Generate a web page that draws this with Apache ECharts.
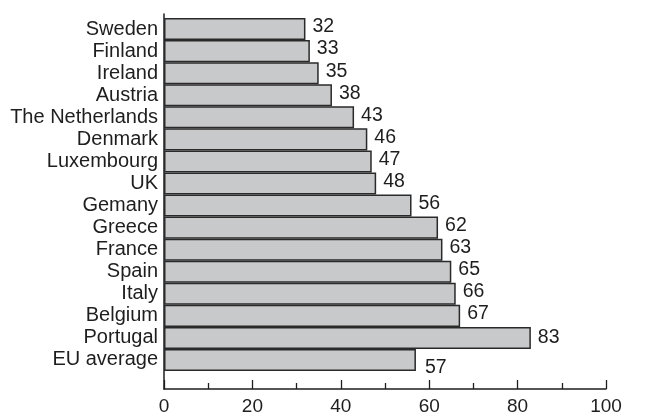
<!DOCTYPE html>
<html>
<head>
<meta charset="utf-8">
<script src="https://cdn.jsdelivr.net/npm/echarts@6/dist/echarts.min.js"></script>
<style>
  html, body { margin: 0; padding: 0; background: #fff; }
  #chart { width: 651px; height: 416px; }
</style>
</head>
<body>
<div id="chart"></div>
<script>
// Countries, top to bottom
const countries = [
  'Sweden', 'Finland', 'Ireland', 'Austria', 'The Netherlands', 'Denmark',
  'Luxembourg', 'UK', 'Gemany', 'Greece', 'France', 'Spain', 'Italy',
  'Belgium', 'Portugal', 'EU average'
];
const values = [32, 33, 35, 38, 43, 46, 47, 48, 56, 62, 63, 65, 66, 67, 83, 57];
const xTicks = [0, 20, 40, 60, 80, 100];

const FONT = '"Liberation Sans", Arial, Helvetica, sans-serif';
const INK = '#1e1e1e';

const barData = values.map((v, i) => {
  const item = { value: v };
  if (countries[i] === 'EU average') {
    item.label = { offset: [2, 8] };
  } else if (countries[i] === 'Portugal') {
    item.label = { offset: [0, 0] };
  }
  return item;
});

const chart = echarts.init(document.getElementById('chart'), null, { renderer: 'canvas' });

chart.setOption({
  animation: false,
  backgroundColor: '#ffffff',
  grid: [
    { left: 164, right: 45, top: 18, bottom: 45, containLabel: false },
    // frame for the full-height vertical axis line
    { left: 164, right: 45, top: 14, bottom: 27, containLabel: false }
  ],
  xAxis: [
    {
      gridIndex: 0,
      type: 'value',
      min: xTicks[0],
      max: xTicks[xTicks.length - 1],
      interval: 20,
      offset: 18,
      axisLine: { show: true, lineStyle: { color: INK, width: 1.5 } },
      axisTick: { show: true, inside: true, length: 9, lineStyle: { color: INK, width: 1.3 } },
      minorTick: { show: true, splitNumber: 2, length: 6, lineStyle: { color: INK, width: 1.3 } },
      splitLine: { show: false },
      axisLabel: {
        show: true, margin: 8, color: INK, fontFamily: FONT, fontSize: 19,
        formatter: v => (xTicks.indexOf(v) >= 0 ? String(v) : '')
      }
    },
    {
      gridIndex: 1, type: 'value', min: 0, max: 100, show: false
    }
  ],
  yAxis: [
    {
      gridIndex: 0,
      type: 'category',
      data: countries,
      inverse: true,
      axisLine: { show: false },
      axisTick: { show: false },
      splitLine: { show: false },
      axisLabel: { interval: 0, margin: 6, color: INK, fontFamily: FONT, fontSize: 20 }
    },
    {
      gridIndex: 1,
      type: 'value',
      min: 0, max: 1,
      axisLine: { show: true, onZero: false, lineStyle: { color: INK, width: 1.5 } },
      axisTick: { show: false },
      axisLabel: { show: false },
      splitLine: { show: false }
    }
  ],
  series: [
    {
      type: 'bar',
      xAxisIndex: 0,
      yAxisIndex: 0,
      data: barData,
      barCategoryGap: 0,
      itemStyle: { color: '#c8c9cb', borderColor: '#2a2a2a', borderWidth: 1.5 },
      label: {
        show: true,
        position: 'right',
        distance: 7,
        offset: [0, -2],
        color: INK,
        fontFamily: FONT,
        fontSize: 19.5
      }
    }
  ]
});
</script>
</body>
</html>
